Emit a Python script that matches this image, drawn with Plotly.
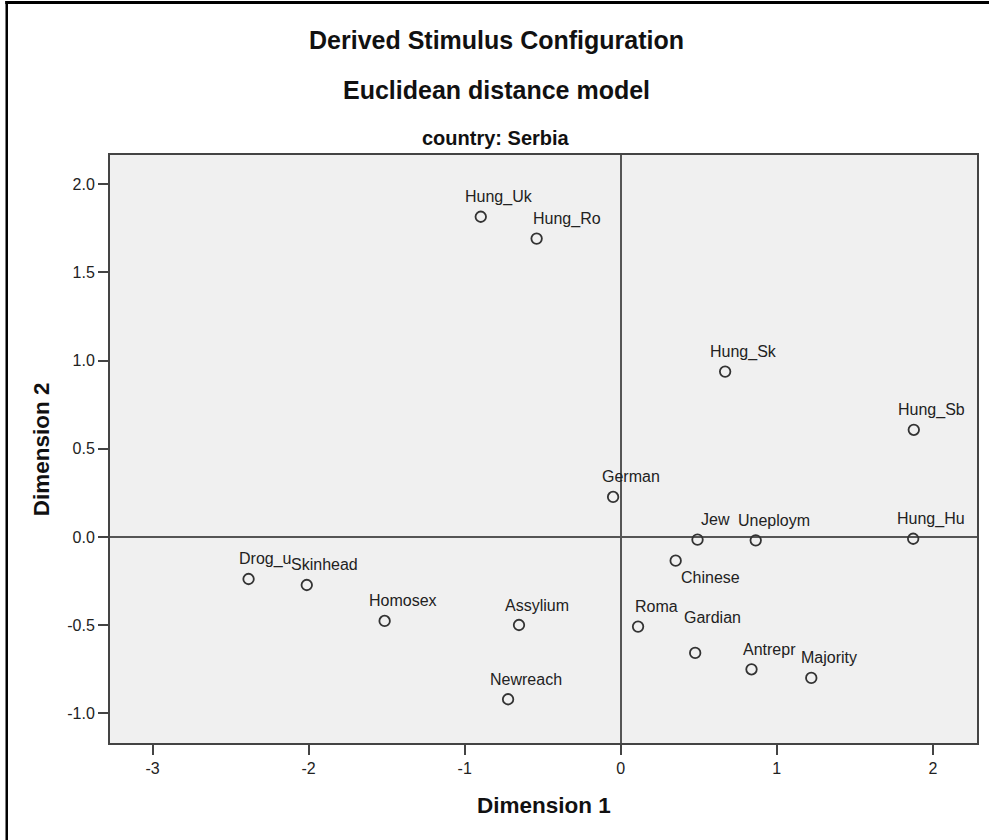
import plotly.graph_objects as go

# ---- data ----
labels = ["Hung_Uk", "Hung_Ro", "Hung_Sk", "Hung_Sb", "German", "Jew", "Uneploym",
          "Hung_Hu", "Chinese", "Roma", "Gardian", "Antrepr", "Majority", "Assylium",
          "Newreach", "Drog_u", "Skinhead", "Homosex"]
dim1 = [-0.897, -0.539, 0.669, 1.878, -0.049, 0.492, 0.865,
        1.874, 0.352, 0.111, 0.477, 0.838, 1.221, -0.652,
        -0.722, -2.385, -2.012, -1.513]
dim2 = [1.816, 1.692, 0.938, 0.608, 0.227, -0.015, -0.019,
        -0.010, -0.134, -0.508, -0.657, -0.750, -0.799, -0.499,
        -0.920, -0.238, -0.272, -0.476]

x_ticks = [-3, -2, -1, 0, 1, 2]
x_tick_labels = ["-3", "-2", "-1", "0", "1", "2"]
y_ticks = [-1.0, -0.5, 0.0, 0.5, 1.0, 1.5, 2.0]
y_tick_labels = ["-1.0", "-0.5", "0.0", "0.5", "1.0", "1.5", "2.0"]

title1 = "Derived Stimulus Configuration"
title2 = "Euclidean distance model"
title3 = "country: Serbia"
x_title = "Dimension 1"
y_title = "Dimension 2"

# ---- label placement (pixel offsets, styling only) ----
default_shift = (18, 20)
shift_overrides = {
    "Hung_Ro": (30, 20),
    "Chinese": (35, -17),
    "Gardian": (17, 35),
    "Drog_u": (16, 20),
}

FONT = "Liberation Sans, Arial, sans-serif"
AX = "#444444"

fig = go.Figure()
fig.add_trace(go.Scatter(
    x=dim1, y=dim2, mode="markers",
    marker=dict(symbol="circle-open", size=10.5, color="#333333",
                line=dict(width=1.8, color="#333333")),
    hoverinfo="text", text=labels, showlegend=False,
))

annotations = []
for lab, xv, yv in zip(labels, dim1, dim2):
    dx, dy = shift_overrides.get(lab, default_shift)
    annotations.append(dict(
        x=xv, y=yv, xref="x", yref="y", text=lab, showarrow=False,
        xshift=dx, yshift=dy, xanchor="center", yanchor="middle",
        font=dict(family=FONT, size=16, color="#222222"),
    ))

L, T, R, B = 110, 155, 979, 743
W, H = 989, 840
pw, ph = R - L, B - T

def px(xpix):
    return (xpix - L) / pw

def py(ypix):
    return (B - ypix) / ph

for txt, yp, size in [(title1, 40, 25), (title2, 90, 25), (title3, 138, 20)]:
    annotations.append(dict(
        x=px(497), y=py(yp), xref="paper", yref="paper", text="<b>%s</b>" % txt,
        showarrow=False, xanchor="center", yanchor="middle",
        font=dict(family=FONT, size=size, color="#111111"),
    ))

annotations.append(dict(
    x=px(544.5), y=py(805), xref="paper", yref="paper", text="<b>%s</b>" % x_title,
    showarrow=False, xanchor="center", yanchor="middle",
    font=dict(family=FONT, size=22.5, color="#111111"),
))
annotations.append(dict(
    x=px(41), y=0.5, xref="paper", yref="paper", text="<b>%s</b>" % y_title,
    showarrow=False, xanchor="center", yanchor="middle", textangle=-90,
    font=dict(family=FONT, size=22.5, color="#111111"),
))

shapes = [
    # outer frame (top and left)
    dict(type="line", xref="paper", yref="paper", x0=px(5), x1=px(W + 5),
         y0=py(2.5), y1=py(2.5), line=dict(color="black", width=3)),
    dict(type="line", xref="paper", yref="paper", x0=px(6.5), x1=px(6.5),
         y0=py(1), y1=py(H + 5), line=dict(color="black", width=2.5)),
]

axis_common = dict(
    showgrid=False, showline=True, mirror=True, linecolor=AX, linewidth=2,
    ticks="outside", ticklen=10, tickwidth=2, tickcolor=AX,
    zeroline=True, zerolinecolor="#555555", zerolinewidth=2,
    tickfont=dict(family=FONT, size=16, color="#222222"),
)

fig.update_layout(
    width=W, height=H,
    margin=dict(l=L, r=W - R, t=T, b=H - B, pad=0),
    paper_bgcolor="white", plot_bgcolor="#F0F0F0",
    xaxis=dict(range=[-3.273, 2.283], tickvals=x_ticks, ticktext=x_tick_labels, **axis_common),
    yaxis=dict(range=[-1.168, 2.166], tickvals=y_ticks, ticktext=y_tick_labels, **axis_common),
    annotations=annotations, shapes=shapes,
)

fig.write_html("out.html", config={"displayModeBar": False},
               post_script="document.body.style.margin='0';document.body.style.overflow='hidden';")
